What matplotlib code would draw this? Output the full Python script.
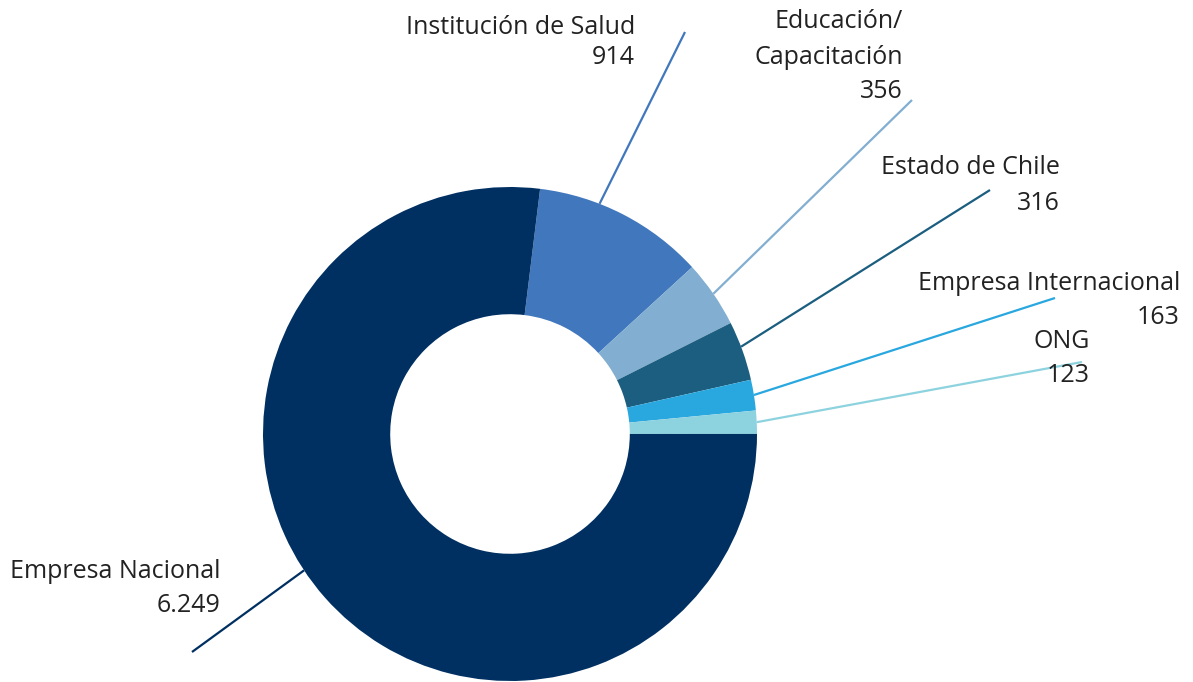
import numpy as np
import matplotlib
matplotlib.use("Agg")
import matplotlib.pyplot as plt

# ---- data ----
categories = ["Institución de Salud", "Educación/\nCapacitación", "Estado de Chile",
              "Empresa Internacional", "ONG", "Empresa Nacional"]
values = [914, 356, 316, 163, 123, 6249]
value_labels = ["914", "356", "316", "163", "123", "6.249"]
colors = ["#4177BD", "#82AED1", "#1B5E80", "#29A7DF", "#8DD3DF", "#002F62"]

W, H = 1193, 682
fig = plt.figure(figsize=(W / 100, H / 100), dpi=100)
ax = fig.add_axes([0, 0, 1, 1])

cx, cy = 510, H - 434
R = 247
wedges, _ = ax.pie(values, colors=colors, startangle=83, counterclock=False,
                   radius=R, center=(cx, cy),
                   wedgeprops=dict(width=R * 0.515, edgecolor="none"))
ax.set_xlim(0, W)
ax.set_ylim(0, H)
ax.set_aspect("equal")
ax.axis("off")

# layout: leader-line end (pixels), text right edge, text line y centres (pixels)
layout = [
    dict(end=(685, 32), xr=635, ys=[27, 58]),
    dict(end=(912, 100), xr=903, ys=[22, 57, 91]),
    dict(end=(990, 190), xr=1060, ys=[168, 203]),
    dict(end=(1055, 298), xr=1180, ys=[283, 317]),
    dict(end=(1082, 362), xr=1090, ys=[342, 375]),
    dict(end=(192, 652), xr=220, ys=[572, 605]),
]
angle_adj = [6, 0, 1, 0, 0, -8]

font = dict(family=["Open Sans", "DejaVu Sans"], size=18, color="#222222")
for w, cat, vl, lay, col, adj in zip(wedges, categories, value_labels, layout, colors, angle_adj):
    th = np.deg2rad((w.theta1 + w.theta2) / 2 + adj)
    sx, sy = cx + R * np.cos(th), cy + R * np.sin(th)
    ex, ey = lay["end"][0], H - lay["end"][1]
    ax.plot([sx, ex], [sy, ey], color=col, lw=1.6, solid_capstyle="butt")
    lines = cat.split("\n") + [vl]
    for t, y in zip(lines, lay["ys"]):
        ax.text(lay["xr"], H - y, t, ha="right", va="center", **font)

fig.savefig("out.png", dpi=100)
